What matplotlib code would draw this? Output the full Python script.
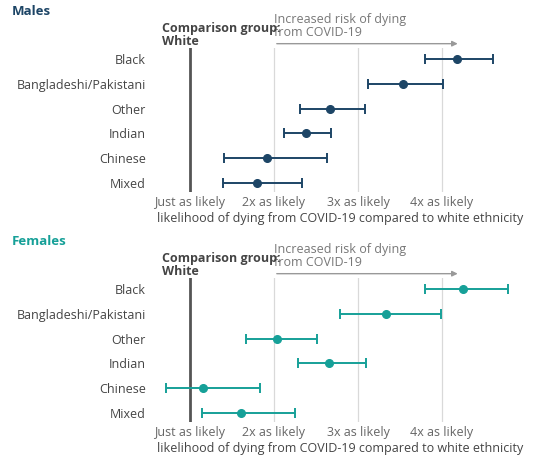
import matplotlib
matplotlib.use('Agg')
import matplotlib.pyplot as plt

plt.rcParams['font.family'] = ['Open Sans', 'DejaVu Sans']

groups = ['Black', 'Bangladeshi/Pakistani', 'Other', 'Indian', 'Chinese', 'Mixed']
tick_pos = [1, 2, 3, 4]
tick_labels = ['Just as likely', '2x as likely', '3x as likely', '4x as likely']

male_est = [4.18, 3.54, 2.67, 2.38, 1.92, 1.80]
male_lo = [3.80, 3.12, 2.31, 2.12, 1.40, 1.39]
male_hi = [4.61, 4.01, 3.08, 2.68, 2.63, 2.33]

female_est = [4.25, 3.33, 2.04, 2.66, 1.15, 1.61]
female_lo = [3.80, 2.79, 1.67, 2.29, 0.71, 1.14]
female_hi = [4.79, 3.99, 2.51, 3.10, 1.83, 2.25]

W, H = 540, 472
fig = plt.figure(figsize=(W / 100, H / 100), dpi=100)


def panel(top_px, bot_px, title, color, est, lo, hi):
    ax = fig.add_axes([150 / W, 1 - bot_px / H, 380 / W, (bot_px - top_px) / H])
    ys = list(range(len(groups) - 1, -1, -1))
    ax.set_xlim(1 - 40 / 84, 1 + 340 / 84)
    ax.set_ylim(-0.36, 5.44)
    for x in [2, 3, 4]:
        ax.axvline(x, color='#d9d9d9', lw=0.9, zorder=0)
    ax.axvline(1, color='#555555', lw=2, zorder=1)
    xerr = [[e - l for e, l in zip(est, lo)], [h - e for e, h in zip(est, hi)]]
    ax.errorbar(est, ys, xerr=xerr, fmt='o', color=color, ms=5.5, lw=1.4,
                capsize=3.5, capthick=1.4, zorder=3)
    ax.set_yticks(ys)
    ax.set_yticklabels(groups, fontsize=9, color='#444444')
    ax.set_xticks(tick_pos)
    ax.set_xticklabels(tick_labels, fontsize=9, color='#666666')
    ax.tick_params(length=0, pad=3)
    for s in ax.spines.values():
        s.set_visible(False)
    ax.set_xlabel('likelihood of dying from COVID-19 compared to white ethnicity',
                  fontsize=9, color='#444444', labelpad=2)
    ax.annotate('', xy=(4.22, 1.03), xytext=(2, 1.03),
                xycoords=('data', 'axes fraction'), annotation_clip=False,
                arrowprops=dict(arrowstyle='-|>', color='#999999', lw=1,
                                mutation_scale=8))
    ax.text(2, 1.06, 'Increased risk of dying\nfrom COVID-19', transform=ax.get_xaxis_transform(),
            fontsize=9, color='#777777', va='bottom', linespacing=1.0)
    ax.text(0.667, 1.0, 'Comparison group:\nWhite', transform=ax.get_xaxis_transform(),
            fontsize=9, color='#444444', weight='bold', ha='left', va='bottom',
            linespacing=1.0)
    fig.text(12 / W, 1 - (top_px - 43) / H, title, fontsize=9.5, weight='bold',
             color=color, va='top')


panel(48, 192, 'Males', '#1d4566', male_est, male_lo, male_hi)
panel(278, 422, 'Females', '#16a098', female_est, female_lo, female_hi)

fig.savefig('out.png', dpi=100, facecolor='white')
